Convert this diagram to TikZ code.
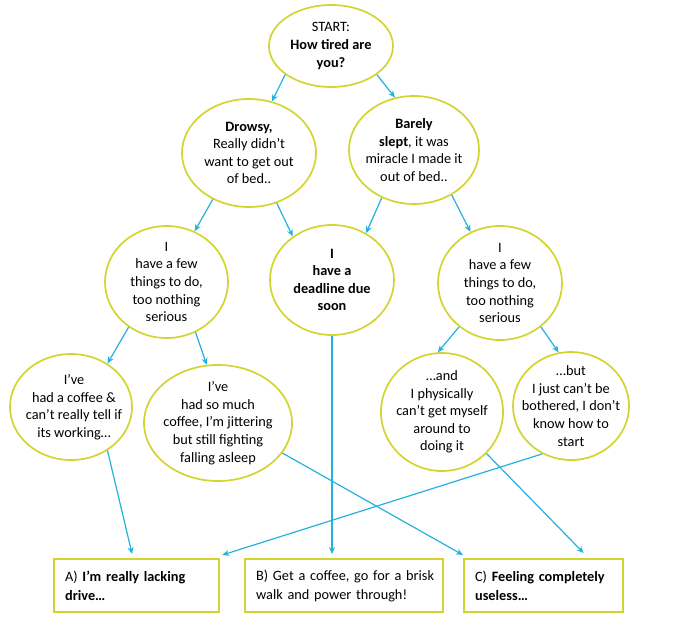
\documentclass[tikz,border=0pt]{standalone}
\usepackage{fontspec}
\setmainfont{Carlito}
\usetikzlibrary{shapes.geometric,arrows.meta}
\definecolor{ylw}{RGB}{212,212,48}
\definecolor{cyn}{RGB}{35,178,222}
\begin{document}
\begin{tikzpicture}[x=1pt,y=-1pt,
  bub/.style={ellipse,draw=ylw,line width=1.7pt,inner sep=0pt},
  btxt/.style={inner sep=0pt,align=center,font=\fontsize{14.3}{17.6}\selectfont},
  res/.style={draw=ylw,line width=2.2pt,anchor=north west,inner xsep=11pt,inner ysep=0pt,
    minimum height=53pt,align=left,font=\fontsize{14.3}{18.8}\selectfont},
  arr/.style={draw=cyn,line width=1.2pt,-{Stealth[length=7pt,width=6pt]}}]
\useasboundingbox (0,0) rectangle (689,626);

% ellipses
\node[bub,minimum width=124pt,minimum height=82pt] (s) at (331,46) {};
\node[btxt] (st) at (s) {START:\\\textbf{How tired are}\\\textbf{you?}};

\node[bub,minimum width=134pt,minimum height=108pt] (d) at (249,153) {};
\node[btxt] (dt) at (d) {\textbf{Drowsy,}\\Really didn’t\\want to get out\\of bed..};

\node[bub,minimum width=130pt,minimum height=108pt] (bs) at (414,150) {};
\node[btxt] (bst) at (bs) {\textbf{Barely}\\\textbf{slept}, it was\\miracle I made it\\out of bed..};

\node[bub,minimum width=123pt,minimum height=112pt] (f1) at (166.5,282) {};
\node[btxt] (f1t) at (f1) {I\\have a few\\things to do,\\too nothing\\serious};

\node[bub,minimum width=124pt,minimum height=110pt] (dl) at (332,280) {};
\node[btxt,font=\fontsize{14.3}{17.6}\selectfont\bfseries] (dlt) at (dl) {I\\have a\\deadline due\\soon};

\node[bub,minimum width=124pt,minimum height=114pt] (f2) at (500,283) {};
\node[btxt] (f2t) at (f2) {I\\have a few\\things to do,\\too nothing\\serious};

\node[bub,minimum width=122pt,minimum height=106pt] (c1) at (71,407) {};
\node[btxt] (c1t) at ([xshift=3pt]c1.center) {I’ve\\had a coffee \&\\can’t really tell if\\its working…};

\node[bub,minimum width=148pt,minimum height=116pt] (c2) at (218,423) {};
\node[btxt] (c2t) at (c2) {I’ve\\had so much\\coffee, I’m jittering\\but still fighting\\falling asleep};

\node[bub,minimum width=122pt,minimum height=118pt] (n1) at (442,412) {};
\node[btxt] (n1t) at (n1) {…and\\I physically\\can’t get myself\\around to\\doing it};

\node[bub,minimum width=116pt,minimum height=108pt] (n2) at (571,406) {};
\node[btxt] (n2t) at (n2) {…but\\I just can’t be\\bothered, I don’t\\know how to\\start};

% result boxes
\node[res,text width=143pt] (ra) at (53,558) {\mbox{A) \textbf{I’m really lacking}}\\\textbf{drive…}};
\node[res,text width=176pt] (rb) at (244,558) {\mbox{B) Get a coffee, go for a brisk}\\\mbox{walk and power through!}};
\node[res,text width=137pt] (rc) at (463,558) {\mbox{C) \textbf{Feeling completely}}\\\textbf{useless…}};

% connectors
\draw[arr] (s.212) -- (d.66);
\draw[arr] (s.328) -- (bs.110);
\draw[arr] (d.232) -- (f1.61);
\draw[arr] (d.299) -- (dl.132);
\draw[arr] (bs.236) -- (dl.54);
\draw[arr] (bs.310) -- (f2.120);
\draw[arr] (f1.230) -- (c1.50);
\draw[arr] (f1.300) -- (c2.101);
\draw[arr] (f2.227) -- (n1.94);
\draw[arr] (f2.313) -- (n2.103);
\draw[arr] (c1.310) -- ([xshift=-4.5pt,yshift=4pt]ra.north);
\draw[arr] (c2.335) -- ([yshift=3pt]rc.north west);
\draw[arr] (dl.south) -- ([yshift=4pt]dl.south |- rb.north);
\draw[arr] (n1.317) -- ([xshift=40pt,yshift=5pt]rc.north);
\draw[arr] (n2.239) -- ([xshift=2pt,yshift=3pt]ra.north east);
\end{tikzpicture}
\end{document}
